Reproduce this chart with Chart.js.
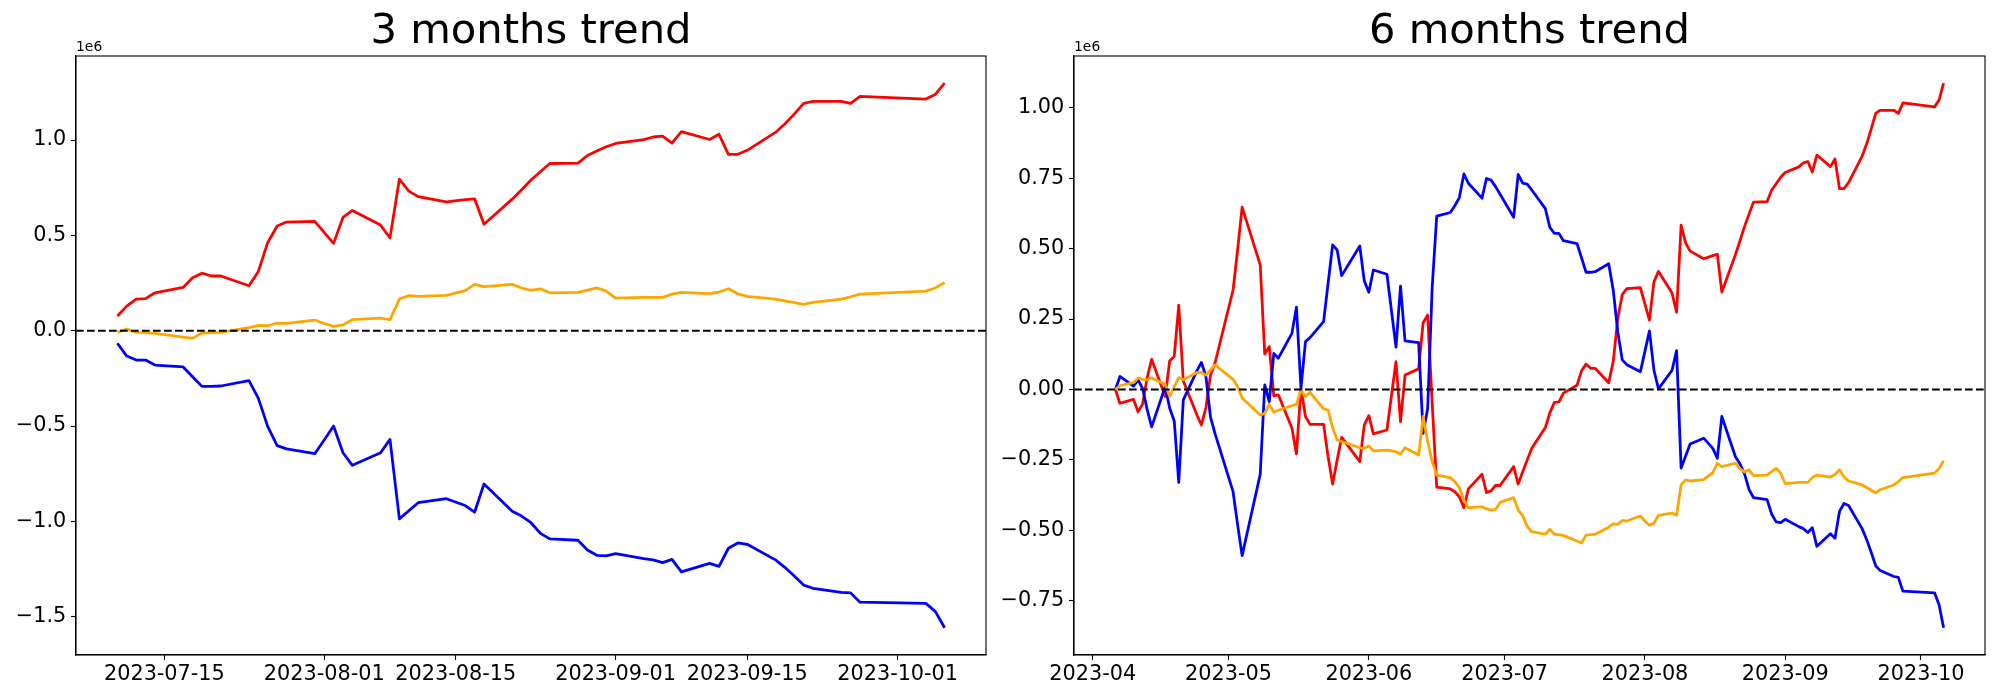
<!DOCTYPE html>
<html>
<head>
<meta charset="utf-8">
<script src="https://cdn.jsdelivr.net/npm/chart.js@4.4.0/dist/chart.umd.min.js"></script>
<style>
  html, body { margin: 0; padding: 0; background: #fff; }
  #wrap { position: relative; width: 2000px; height: 700px; }
  canvas { position: absolute; top: 0; }
</style>
</head>
<body>
<div id="wrap">
  <canvas id="chart3m" width="1000" height="700" style="left:0"></canvas>
  <canvas id="chart6m" width="1000" height="700" style="left:1000px"></canvas>
</div>
<script>
// values are in units of 1e6

// ---- 3 months ----
const dates3m = ['2023-07-10','2023-07-11','2023-07-12','2023-07-13','2023-07-14','2023-07-17','2023-07-18','2023-07-19','2023-07-20','2023-07-21',
  '2023-07-24','2023-07-25','2023-07-26','2023-07-27','2023-07-28','2023-07-31','2023-08-01','2023-08-02','2023-08-03','2023-08-04',
  '2023-08-07','2023-08-08','2023-08-09','2023-08-10','2023-08-11','2023-08-14','2023-08-16','2023-08-17','2023-08-18','2023-08-21',
  '2023-08-22','2023-08-23','2023-08-24','2023-08-25','2023-08-28','2023-08-29','2023-08-30','2023-08-31','2023-09-01','2023-09-04',
  '2023-09-05','2023-09-06','2023-09-07','2023-09-08','2023-09-11','2023-09-12','2023-09-13','2023-09-14','2023-09-15','2023-09-18',
  '2023-09-19','2023-09-20','2023-09-21','2023-09-22','2023-09-25','2023-09-26','2023-09-27','2023-10-04','2023-10-05','2023-10-06'];

const red3m = [0.077,0.129,0.166,0.168,0.199,0.227,0.278,0.302,0.287,0.287,
  0.236,0.311,0.463,0.549,0.570,0.573,0.516,0.458,0.594,0.631,
  0.554,0.486,0.795,0.732,0.703,0.676,0.687,0.692,0.558,0.690,
  0.739,0.790,0.834,0.877,0.879,0.919,0.942,0.965,0.982,1.002,
  1.016,1.021,0.984,1.044,1.003,1.030,0.925,0.925,0.946,1.040,
  1.084,1.136,1.192,1.203,1.203,1.192,1.229,1.215,1.239,1.298];

const blue3m = [-0.066,-0.133,-0.154,-0.154,-0.180,-0.190,-0.241,-0.292,-0.292,-0.290,
  -0.262,-0.355,-0.503,-0.603,-0.620,-0.645,-0.573,-0.500,-0.640,-0.706,
  -0.640,-0.570,-0.987,-0.944,-0.902,-0.881,-0.917,-0.952,-0.804,-0.947,
  -0.972,-1.007,-1.063,-1.092,-1.099,-1.150,-1.178,-1.181,-1.169,-1.195,
  -1.202,-1.216,-1.199,-1.265,-1.220,-1.236,-1.141,-1.113,-1.120,-1.202,
  -1.241,-1.286,-1.334,-1.351,-1.372,-1.375,-1.424,-1.430,-1.472,-1.558];

const orange3m = [-0.009,0.009,-0.009,-0.010,-0.014,-0.033,-0.040,-0.012,-0.010,-0.009,
  0.016,0.028,0.026,0.040,0.038,0.056,0.038,0.023,0.030,0.058,
  0.066,0.058,0.166,0.184,0.180,0.185,0.210,0.243,0.231,0.243,
  0.224,0.212,0.220,0.199,0.201,0.213,0.225,0.208,0.171,0.175,
  0.175,0.175,0.192,0.201,0.194,0.203,0.220,0.194,0.180,0.166,
  0.157,0.147,0.138,0.149,0.166,0.178,0.192,0.208,0.224,0.252];

const tickLabels3m = ['2023-07-15','2023-08-01','2023-08-15','2023-09-01','2023-09-15','2023-10-01'];
const yTicks3m = [-1.5, -1.0, -0.5, 0.0, 0.5, 1.0];

// ---- 6 months ----
const dates6m = ['2023-04-06','2023-04-07','2023-04-10','2023-04-11','2023-04-12','2023-04-13','2023-04-14','2023-04-17','2023-04-18','2023-04-19',
  '2023-04-20','2023-04-21','2023-04-24','2023-04-25','2023-04-26','2023-04-27','2023-04-28',
  '2023-05-02','2023-05-03','2023-05-04','2023-05-08','2023-05-09','2023-05-10','2023-05-11','2023-05-12','2023-05-15','2023-05-16',
  '2023-05-17','2023-05-18','2023-05-19','2023-05-22','2023-05-23','2023-05-24','2023-05-25','2023-05-26','2023-05-30','2023-05-31',
  '2023-06-01','2023-06-02','2023-06-05','2023-06-07','2023-06-08','2023-06-09','2023-06-12','2023-06-13','2023-06-14','2023-06-15',
  '2023-06-16','2023-06-19','2023-06-20','2023-06-21','2023-06-22','2023-06-23','2023-06-26','2023-06-27','2023-06-28','2023-06-29','2023-06-30',
  '2023-07-03','2023-07-04','2023-07-05','2023-07-06','2023-07-07',
  ...dates3m];

const red6m = [0.000,-0.049,-0.035,-0.079,-0.052,0.040,0.107,-0.025,0.102,0.117,0.299,0.030,-0.090,-0.126,-0.065,0.050,0.093,
  0.353,0.495,0.647,0.442,0.126,0.152,-0.023,-0.019,-0.137,-0.229,0.004,-0.096,-0.124,-0.124,-0.239,-0.336,-0.250,-0.170,-0.256,-0.126,
  -0.093,-0.158,-0.144,0.099,-0.114,0.051,0.073,0.237,0.264,-0.050,-0.347,-0.353,-0.363,-0.381,-0.420,-0.353,-0.301,-0.366,-0.360,-0.341,-0.341,
  -0.274,-0.336,-0.292,-0.250,-0.209,
  -0.135,-0.083,-0.046,-0.044,-0.013,0.015,0.066,0.090,0.075,0.075,
  0.024,0.099,0.251,0.337,0.358,0.361,0.304,0.246,0.382,0.419,
  0.342,0.274,0.583,0.520,0.491,0.464,0.475,0.480,0.346,0.478,
  0.527,0.578,0.622,0.665,0.667,0.707,0.730,0.753,0.770,0.790,
  0.804,0.809,0.772,0.832,0.791,0.818,0.713,0.713,0.734,0.828,
  0.872,0.924,0.980,0.991,0.991,0.980,1.017,1.003,1.027,1.087];

const blue6m = [0.000,0.046,0.012,0.034,0.004,-0.070,-0.133,0.010,-0.067,-0.112,-0.330,-0.037,0.066,0.096,0.046,-0.097,-0.156,
  -0.363,-0.480,-0.590,-0.301,0.016,-0.043,0.128,0.111,0.199,0.292,0.005,0.170,0.184,0.241,0.377,0.513,0.495,0.404,0.509,0.385,
  0.345,0.424,0.409,0.150,0.367,0.172,0.166,-0.156,-0.067,0.363,0.615,0.628,0.652,0.681,0.765,0.732,0.679,0.749,0.743,0.720,0.693,
  0.611,0.763,0.732,0.729,0.708,
  0.642,0.575,0.554,0.554,0.528,0.518,0.467,0.416,0.416,0.418,
  0.446,0.353,0.205,0.105,0.088,0.063,0.135,0.208,0.068,0.002,
  0.068,0.138,-0.279,-0.236,-0.194,-0.173,-0.209,-0.244,-0.096,-0.239,
  -0.264,-0.299,-0.355,-0.384,-0.391,-0.442,-0.470,-0.473,-0.461,-0.487,
  -0.494,-0.508,-0.491,-0.557,-0.512,-0.528,-0.433,-0.405,-0.412,-0.494,
  -0.533,-0.578,-0.626,-0.643,-0.664,-0.667,-0.716,-0.722,-0.764,-0.846];

const orange6m = [0.000,0.014,0.024,0.040,0.036,0.034,0.041,0.018,-0.025,0.010,0.042,0.034,0.060,0.060,0.051,0.069,0.087,
  0.036,0.010,-0.030,-0.091,-0.085,-0.053,-0.081,-0.074,-0.058,-0.053,-0.002,-0.025,-0.010,-0.069,-0.073,-0.136,-0.179,-0.185,-0.207,-0.209,
  -0.201,-0.218,-0.215,-0.221,-0.230,-0.207,-0.233,-0.096,-0.185,-0.256,-0.304,-0.313,-0.327,-0.349,-0.392,-0.420,-0.416,-0.424,-0.428,-0.426,-0.401,
  -0.384,-0.428,-0.448,-0.487,-0.505,
  -0.514,-0.496,-0.514,-0.515,-0.519,-0.538,-0.545,-0.517,-0.515,-0.514,
  -0.489,-0.477,-0.479,-0.465,-0.467,-0.449,-0.467,-0.482,-0.475,-0.447,
  -0.439,-0.447,-0.339,-0.321,-0.325,-0.320,-0.295,-0.262,-0.274,-0.262,
  -0.281,-0.293,-0.285,-0.306,-0.304,-0.292,-0.280,-0.297,-0.334,-0.330,
  -0.330,-0.330,-0.313,-0.304,-0.311,-0.302,-0.285,-0.311,-0.325,-0.339,
  -0.348,-0.358,-0.367,-0.356,-0.339,-0.327,-0.313,-0.297,-0.281,-0.253];

const tickLabels6m = ['2023-04','2023-05','2023-06','2023-07','2023-08','2023-09','2023-10'];
const yTicks6m = [-0.75, -0.5, -0.25, 0.0, 0.25, 0.5, 0.75, 1.0];

// ---- helpers ----
const FONT = '"DejaVu Sans", sans-serif';

function dayNum(s) {
  const p = s.split('-').map(Number);
  return Date.UTC(p[0], p[1] - 1, p[2] || 1) / 86400000;
}

function minus(s) {
  return s.replace('-', '\u2212');
}

// top/right spines and the "1e6" offset text
const frame = {
  id: 'frame',
  afterDraw(chart) {
    const a = chart.chartArea, ctx = chart.ctx;
    ctx.save();
    ctx.strokeStyle = '#000';
    ctx.lineWidth = 1.1;
    ctx.strokeRect(a.left, a.top, a.right - a.left, a.bottom - a.top);
    ctx.font = '13.9px ' + FONT;
    ctx.fillStyle = '#000';
    ctx.textAlign = 'left';
    ctx.textBaseline = 'alphabetic';
    ctx.fillText('1e6', a.left, a.top - 5);
    ctx.restore();
  }
};

function makeChart(id, cfg) {
  const xs = cfg.dates.map(dayNum);
  const x0 = xs[0], x1 = xs[xs.length - 1], xSpan = x1 - x0;
  const xMin = x0 - 0.05 * xSpan, xMax = x1 + 0.05 * xSpan;

  const all = cfg.series.flatMap(s => s.values);
  const lo = Math.min(...all), hi = Math.max(...all), ySpan = hi - lo;

  const datasets = cfg.series.map(s => ({
    data: s.values.map((v, i) => ({x: xs[i], y: v})),
    borderColor: s.color,
    borderWidth: 2.78,
    borderJoinStyle: 'round',
    pointRadius: 0,
    tension: 0,
    fill: false,
    order: s.order
  }));
  // dashed zero line across the whole axes
  datasets.push({
    data: [{x: xMin, y: 0}, {x: xMax, y: 0}],
    borderColor: '#000',
    borderWidth: 2.1,
    borderDash: [7.7, 3.3],
    pointRadius: 0,
    order: 0
  });

  const tickFont = {family: FONT, size: 20.8};

  return new Chart(document.getElementById(id), {
    type: 'line',
    data: {datasets},
    options: {
      responsive: false,
      animation: false,
      devicePixelRatio: 1,
      layout: {padding: {left: 0, right: cfg.padRight, top: 0, bottom: 0}},
      plugins: {
        legend: {display: false},
        tooltip: {enabled: false},
        title: {
          display: true,
          text: cfg.title,
          fullSize: false,
          color: '#000',
          font: {family: FONT, size: 41.7, weight: 'normal', lineHeight: 1},
          padding: {top: 11.5, bottom: 2.8}
        }
      },
      scales: {
        x: {
          type: 'linear',
          min: xMin,
          max: xMax,
          afterBuildTicks: sc => { sc.ticks = cfg.tickDates.map(d => ({value: dayNum(d)})); },
          afterFit: sc => { sc.height = 45; },
          ticks: {
            callback: (v, i) => cfg.tickLabels[i],
            font: tickFont, color: '#000', padding: 2, maxRotation: 0, autoSkip: false
          },
          grid: {drawOnChartArea: false, tickLength: 5, tickColor: '#000', tickWidth: 1.1},
          border: {color: '#000', width: 1.1}
        },
        y: {
          type: 'linear',
          min: lo - 0.05 * ySpan,
          max: hi + 0.05 * ySpan,
          afterBuildTicks: sc => { sc.ticks = cfg.yTicks.map(v => ({value: v})); },
          afterFit: sc => { sc.width = cfg.yWidth; },
          ticks: {
            callback: v => minus(v.toFixed(cfg.decimals)),
            font: tickFont, color: '#000', padding: 4.7, autoSkip: false
          },
          grid: {drawOnChartArea: false, tickLength: 5, tickColor: '#000', tickWidth: 1.1},
          border: {color: '#000', width: 1.1}
        }
      }
    },
    plugins: [frame]
  });
}

makeChart('chart3m', {
  title: '3 months trend',
  dates: dates3m,
  series: [
    {values: red3m, color: '#ff0000', order: 3},
    {values: blue3m, color: '#0000ff', order: 2},
    {values: orange3m, color: '#ffa500', order: 1}
  ],
  tickDates: tickLabels3m,
  tickLabels: tickLabels3m,
  yTicks: yTicks3m,
  decimals: 1,
  yWidth: 76,
  padRight: 14
});

makeChart('chart6m', {
  title: '6 months trend',
  dates: dates6m,
  series: [
    {values: red6m, color: '#ff0000', order: 3},
    {values: blue6m, color: '#0000ff', order: 2},
    {values: orange6m, color: '#ffa500', order: 1}
  ],
  tickDates: tickLabels6m.map(m => m + '-01'),
  tickLabels: tickLabels6m,
  yTicks: yTicks6m,
  decimals: 2,
  yWidth: 74,
  padRight: 15
});
</script>
</body>
</html>
